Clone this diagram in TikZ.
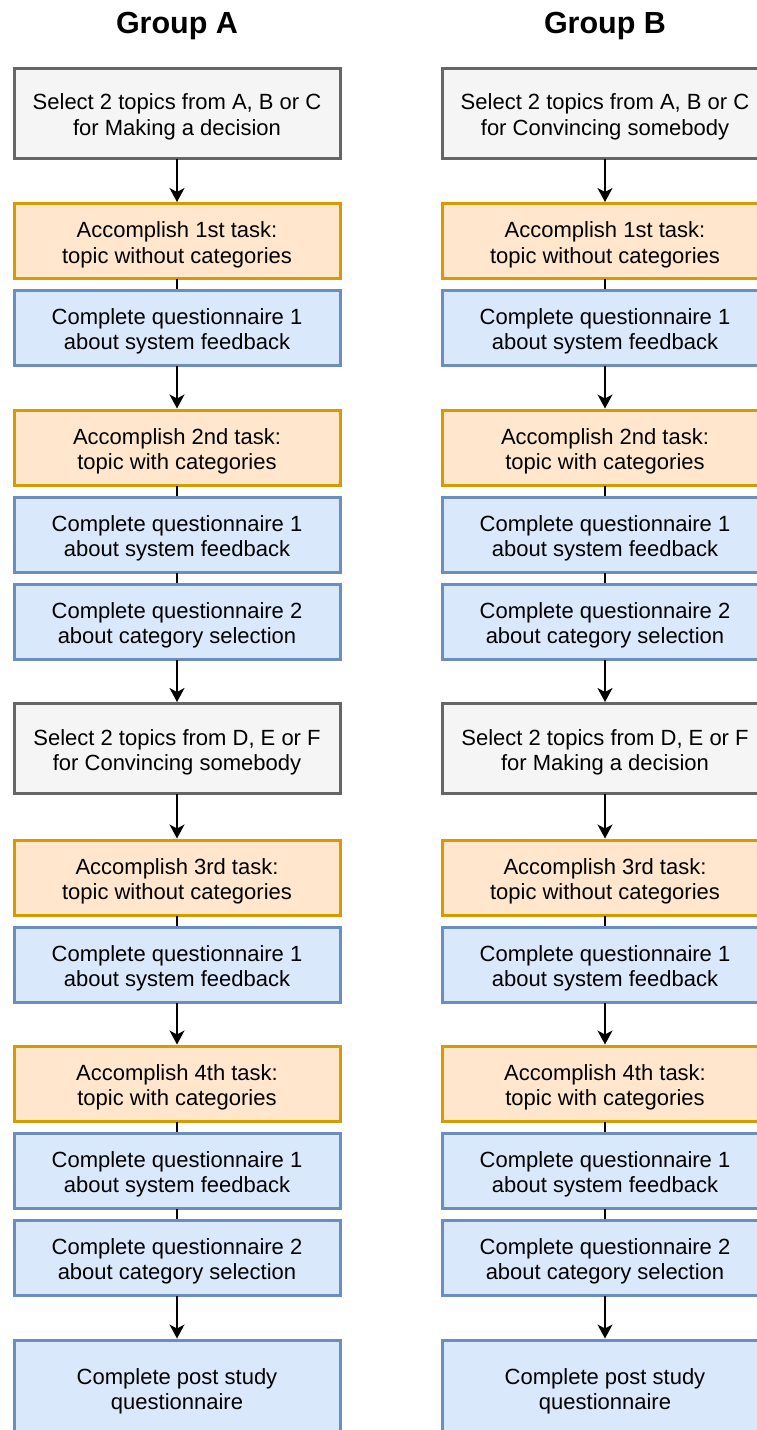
\documentclass[tikz,border=0pt]{standalone}
\usepackage{fontspec}
\setmainfont{Liberation Sans}
\usetikzlibrary{arrows.meta, positioning}
\definecolor{grayfill}{RGB}{245,245,245}
\definecolor{graydraw}{RGB}{102,102,102}
\definecolor{taskfill}{RGB}{255,230,204}
\definecolor{taskdraw}{RGB}{215,155,0}
\definecolor{quesfill}{RGB}{218,232,252}
\definecolor{quesdraw}{RGB}{108,142,191}
\newcommand{\twoline}[2]{\rule{0pt}{24pt}#1\\#2}

\begin{document}
\begin{tikzpicture}[x=1pt, y=-1pt, line cap=rect,
                box/.style={rectangle, minimum width=326pt, minimum height=75pt, inner sep=0pt, line width=3pt, align=center, font=\fontsize{22}{25.5}\selectfont},
                selectbox/.style={box, fill=grayfill, draw=graydraw, minimum height=90pt},
                taskbox/.style={box, fill=taskfill, draw=taskdraw},
                quesbox/.style={box, fill=quesfill, draw=quesdraw},
                title/.style={font=\fontsize{30.5}{36}\selectfont\bfseries},
                link/.style={line width=1.6pt},
                flow/.style={line width=1.6pt, -{Stealth[length=14pt, width=15pt, inset=4pt]}}]

                \useasboundingbox (0,0) rectangle (757,1430);

                % Group A
                \node[title] (titleA) at (177,26) {Group A};
                \node[selectbox] (sA1) at (177,113) {\twoline{Select 2 topics from A, B or C}{for Making a decision}};
                \node[taskbox] (tA1) at (177,241) {\twoline{Accomplish 1st task:}{topic without categories}};
                \node[quesbox] (fbA1) at (177,327.5) {\twoline{Complete questionnaire 1}{about system feedback}};
                \node[taskbox] (tA2) at (177,447.5) {\twoline{Accomplish 2nd task:}{topic with categories}};
                \node[quesbox] (fbA2) at (177,534.5) {\twoline{Complete questionnaire 1}{about system feedback}};
                \node[quesbox] (catA2) at (177,621.5) {\twoline{Complete questionnaire 2}{about category selection}};
                \node[selectbox] (sA2) at (177,748.5) {\twoline{Select 2 topics from D, E or F}{for Convincing somebody}};
                \node[taskbox] (tA3) at (177,877.5) {\twoline{Accomplish 3rd task:}{topic without categories}};
                \node[quesbox] (fbA3) at (177,964.5) {\twoline{Complete questionnaire 1}{about system feedback}};
                \node[taskbox] (tA4) at (177,1083.5) {\twoline{Accomplish 4th task:}{topic with categories}};
                \node[quesbox] (fbA4) at (177,1170.5) {\twoline{Complete questionnaire 1}{about system feedback}};
                \node[quesbox] (catA4) at (177,1257.5) {\twoline{Complete questionnaire 2}{about category selection}};
                \node[quesbox, minimum height=95pt] (postA) at (177,1387.5) {\twoline{Complete post study}{questionnaire}};

                % Group B
                \node[title] (titleB) at (605,26) {Group B};
                \node[selectbox] (sB1) at (605,113) {\twoline{Select 2 topics from A, B or C}{for Convincing somebody}};
                \node[taskbox] (tB1) at (605,241) {\twoline{Accomplish 1st task:}{topic without categories}};
                \node[quesbox] (fbB1) at (605,327.5) {\twoline{Complete questionnaire 1}{about system feedback}};
                \node[taskbox] (tB2) at (605,447.5) {\twoline{Accomplish 2nd task:}{topic with categories}};
                \node[quesbox] (fbB2) at (605,534.5) {\twoline{Complete questionnaire 1}{about system feedback}};
                \node[quesbox] (catB2) at (605,621.5) {\twoline{Complete questionnaire 2}{about category selection}};
                \node[selectbox] (sB2) at (605,748.5) {\twoline{Select 2 topics from D, E or F}{for Making a decision}};
                \node[taskbox] (tB3) at (605,877.5) {\twoline{Accomplish 3rd task:}{topic without categories}};
                \node[quesbox] (fbB3) at (605,964.5) {\twoline{Complete questionnaire 1}{about system feedback}};
                \node[taskbox] (tB4) at (605,1083.5) {\twoline{Accomplish 4th task:}{topic with categories}};
                \node[quesbox] (fbB4) at (605,1170.5) {\twoline{Complete questionnaire 1}{about system feedback}};
                \node[quesbox] (catB4) at (605,1257.5) {\twoline{Complete questionnaire 2}{about category selection}};
                \node[quesbox, minimum height=95pt] (postB) at (605,1387.5) {\twoline{Complete post study}{questionnaire}};

                % connectors
                \foreach \g in {A,B} {
                    \draw[flow] (s\g1) -- (t\g1);
                    \draw[link] (t\g1) -- (fb\g1);
                    \draw[flow] (fb\g1) -- (t\g2);
                    \draw[link] (t\g2) -- (fb\g2);
                    \draw[link] (fb\g2) -- (cat\g2);
                    \draw[flow] (cat\g2) -- (s\g2);
                    \draw[flow] (s\g2) -- (t\g3);
                    \draw[link] (t\g3) -- (fb\g3);
                    \draw[flow] (fb\g3) -- (t\g4);
                    \draw[link] (t\g4) -- (fb\g4);
                    \draw[link] (fb\g4) -- (cat\g4);
                    \draw[flow] (cat\g4) -- (post\g);
                }
            \end{tikzpicture}
\end{document}
